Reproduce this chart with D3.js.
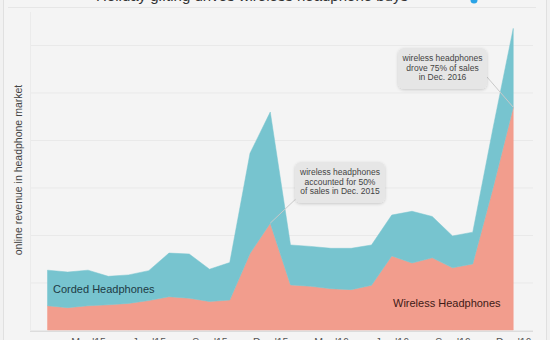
<!DOCTYPE html>
<html>
<head>
<meta charset="utf-8">
<script src="https://cdn.jsdelivr.net/npm/d3@7"></script>
<style>
html,body{margin:0;padding:0;background:#f1f1f1;}
svg{display:block;}
text{font-family:"Liberation Sans",Arial,Helvetica,sans-serif;}
</style>
</head>
<body>
<svg id="chart" width="550" height="340"></svg>
<script>
const months = ["Jan '15","Feb '15","Mar '15","Apr '15","May '15","Jun '15","Jul '15","Aug '15","Sep '15","Oct '15","Nov '15","Dec '15",
                "Jan '16","Feb '16","Mar '16","Apr '16","May '16","Jun '16","Jul '16","Aug '16","Sep '16","Oct '16","Nov '16","Dec '16"];
const wireless = [0.51,0.47,0.51,0.53,0.56,0.62,0.70,0.67,0.60,0.63,1.61,2.25,
                  0.95,0.92,0.87,0.85,0.94,1.56,1.41,1.52,1.31,1.39,2.99,4.69];
const corded   = [0.75,0.75,0.75,0.60,0.60,0.63,0.92,0.93,0.68,0.79,2.11,2.34,
                  0.84,0.84,0.85,0.87,0.85,0.86,1.09,0.87,0.67,0.67,1.26,1.66];
const tickLabels = ["Mar '15","Jun '15","Sep '15","Dec '15","Mar '16","Jun '16","Sep '16","Dec '16"];
const gridValues = [0,1,2,3,4,5,6];
const seriesNames = ["Wireless Headphones","Corded Headphones"];
const titleText = "Holiday gifting drives wireless headphone buys";
const notes = [
  {month:"Dec '15", lines:["wireless headphones","accounted for 50%","of sales in Dec. 2015"]},
  {month:"Dec '16", lines:["wireless headphones","drove 75% of sales","in Dec. 2016"]}
];

const svg = d3.select("#chart");
const defs = svg.append("defs");
const f = defs.append("filter").attr("id","sh").attr("x","-20%").attr("y","-20%").attr("width","140%").attr("height","150%");
f.append("feDropShadow").attr("dx",0).attr("dy",1).attr("stdDeviation",1.5).attr("flood-color","#000").attr("flood-opacity",0.18);

// card
svg.append("rect").attr("x",3.5).attr("y",-5).attr("width",543).attr("height",350)
  .attr("fill","#f4f4f4").attr("stroke","#e0e0e0");

// title (cut off at the top edge, only descenders visible)
svg.append("text").attr("x",252).attr("y",0.5).attr("text-anchor","middle")
  .attr("font-size",15).attr("fill","#333")
  .text(titleText);
svg.append("circle").attr("cx",474).attr("cy",0).attr("r",3.5).attr("fill","#2aa3e6");
svg.append("line").attr("x1",8).attr("x2",536).attr("y1",7.5).attr("y2",7.5).attr("stroke","#e6e6e6");

const x = d3.scaleLinear().domain([0, months.length-1]).range([47.5, 513.25]);
const y = d3.scaleLinear().domain([0, 6]).range([330, 45]);

// gridlines
svg.append("g").selectAll("line").data(gridValues).join("line")
  .attr("x1",30).attr("x2",533)
  .attr("y1",d=>y(d)+0.5).attr("y2",d=>y(d)+0.5)
  .attr("stroke","#e9e9e9").attr("stroke-width",1);
svg.append("line").attr("x1",30.5).attr("x2",30.5).attr("y1",12).attr("y2",331).attr("stroke","#ebebeb");

const table = months.map((m,i)=>({i, m, wireless: wireless[i], corded: corded[i]}));
const stack = d3.stack().keys(["wireless","corded"]);
const layers = stack(table);
const colors = {wireless:"#f29d8d", corded:"#77c4cf"};

const area = d3.area().x(d=>x(d.data.i)).y0(d=>y(d[0])).y1(d=>y(d[1]));
svg.append("g").selectAll("path").data(layers).join("path")
  .attr("d", area).attr("fill", d=>colors[d.key])
  .attr("stroke", d=>colors[d.key]).attr("stroke-width",0.5);

// x axis
const tickIdx = tickLabels.map(t=>months.indexOf(t));
const xAxis = d3.axisBottom(x).tickValues(tickIdx).tickFormat((d,k)=>tickLabels[k]).tickSize(0).tickPadding(8);
const gx = svg.append("g").attr("transform","translate(0,331)").call(xAxis);
gx.select(".domain").remove();
gx.selectAll("text").attr("font-size",10.5).attr("fill","#555").attr("font-family","Liberation Sans, Arial, sans-serif");
svg.append("line").attr("x1",30).attr("x2",533).attr("y1",331.5).attr("y2",331.5).attr("stroke","#dcdcdc");

// y label
svg.append("text").attr("transform","translate(22,170) rotate(-90)").attr("text-anchor","middle")
  .attr("font-size",10.5).attr("fill","#444").text("online revenue in headphone market");

// series labels
svg.append("text").attr("x",53).attr("y",293).attr("font-size",11).attr("fill","#1d3a44").text(seriesNames[1]);
svg.append("text").attr("x",393).attr("y",307).attr("font-size",11).attr("fill","#3e1a16").text(seriesNames[0]);

// annotations
const boxes = [
  {x:295, y:162, w:90, h:41, tx:340, ty:[175,184.5,194], lx1:300, ly1:195},
  {x:398, y:48, w:89, h:41, tx:442.5, ty:[61,70.5,80], lx1:487, ly1:77}
];
notes.forEach((n,k)=>{
  const b = boxes[k];
  const i = months.indexOf(n.month);
  const px = x(i), py = y(wireless[i]);
  svg.append("line").attr("x1",b.lx1).attr("y1",b.ly1).attr("x2",px).attr("y2",py)
    .attr("stroke","#c9c9c9").attr("stroke-width",1);
  svg.append("rect").attr("x",b.x).attr("y",b.y).attr("width",b.w).attr("height",b.h)
    .attr("rx",6).attr("fill","#e6e6e6").attr("filter","url(#sh)");
  n.lines.forEach((l,j)=>{
    svg.append("text").attr("x",b.tx).attr("y",b.ty[j]).attr("text-anchor","middle")
      .attr("font-size",8.5).attr("fill","#444").text(l);
  });
});
</script>
</body>
</html>
